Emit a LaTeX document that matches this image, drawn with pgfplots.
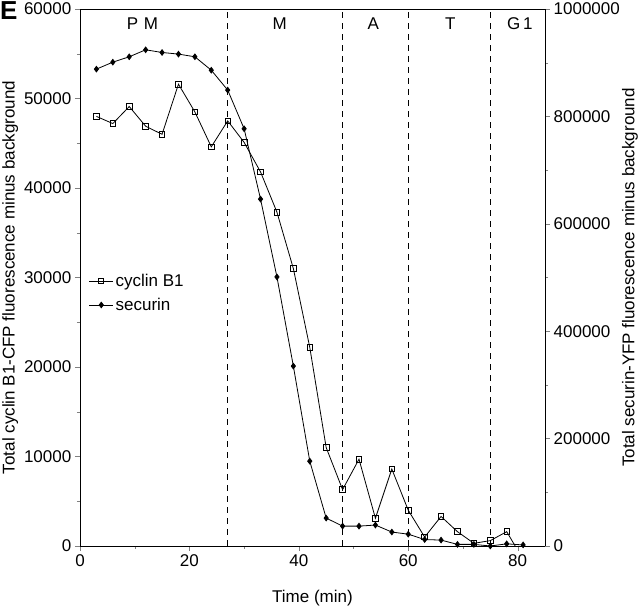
\documentclass[border=0pt]{standalone}
\usepackage{pgfplots}
\pgfplotsset{compat=1.18}
\usepackage{fontspec}
\setmainfont{Liberation Sans}
\begin{document}
\begin{tikzpicture}[font=\fontsize{17}{20}\selectfont]
\pgfplotsset{
  every axis/.append style={
    scale only axis, width=465pt, height=537pt,
    at={(0,0)}, anchor=south west,
    xmin=0, xmax=85,
    tick align=outside,
    major tick length=5pt, minor tick length=3pt,
    /pgf/number format/fixed,
    /pgf/number format/precision=0,
    /pgf/number format/assume math mode=true,
    /pgf/number format/1000 sep={},
    tick label style={font=\fontsize{17}{20}\selectfont},
    label style={font=\fontsize{17}{20}\selectfont},
    line width=0.7pt,
  },
}
\begin{axis}[
  name=ax,
  ymin=0, ymax=60000,
  xtick={0,20,40,60,80}, minor xtick={10,30,50,70},
  ytick={0,10000,20000,30000,40000,50000,60000},
  minor ytick={5000,15000,25000,35000,45000,55000},
  scaled y ticks=false,
  xtick pos=bottom, ytick pos=left,
  xlabel={Time (min)},
  ylabel={Total cyclin B1-CFP fluorescence minus background},
  xlabel style={at={(axis description cs:0.5,-0.097)}, anchor=center},
  ylabel style={at={(axis description cs:-0.15,0.5)}, anchor=center},
]
\addplot[black, dash pattern=on 6pt off 5pt, line width=0.9pt, forget plot] coordinates {(27,0) (27,60000)};
\addplot[black, dash pattern=on 6pt off 5pt, line width=0.9pt, forget plot] coordinates {(48,0) (48,60000)};
\addplot[black, dash pattern=on 6pt off 5pt, line width=0.9pt, forget plot] coordinates {(60,0) (60,60000)};
\addplot[black, dash pattern=on 6pt off 5pt, line width=0.9pt, forget plot] coordinates {(75,0) (75,60000)};
\addplot[black, line width=0.8pt, mark=square, mark size=2.8pt, mark options={fill=white, solid, line width=0.8pt}] coordinates {
(3,48000) (6,47200) (9,49100) (12,46900) (15,46000) (18,51600) (21,48500) (24,44600) (27,47500) (30,45100) (33,41800) (36,37300) (39,31000) (42,22200) (45,11000) (48,6300) (51,9700) (54,3100) (57,8600) (60,4000) (63,1000) (66,3300) (69,1600) (72,300) (75,600) (78,1600) (81,-1500)
};
\node[anchor=center] at (axis cs:11.4,58400) {P\,\,M};
\node[anchor=center] at (axis cs:36.5,58400) {M};
\node[anchor=center] at (axis cs:53.6,58400) {A};
\node[anchor=center] at (axis cs:67.7,58400) {T};
\node[anchor=center] at (axis cs:80.4,58400) {G\,1};
\end{axis}
\begin{axis}[
  ymin=0, ymax=1000000,
  axis y line*=right, hide x axis,
  ytick={0,200000,400000,600000,800000,1000000},
  minor ytick={100000,300000,500000,700000,900000},
  scaled y ticks=false,
  ylabel={Total securin-YFP fluorescence minus background},
  ylabel style={at={(axis description cs:1.183,0.5)}, anchor=center},
  legend style={at={(axis description cs:0.012,0.471)}, anchor=west, draw=none, fill=none,
    font=\fontsize{17}{20}\selectfont, row sep=6pt, cells={anchor=west}},
  legend image code/.code={\draw[mark repeat=2, mark phase=2] plot coordinates {(0cm,0cm) (0.42cm,0cm) (0.84cm,0cm)};},
]
\addlegendimage{black, line width=0.8pt, mark=square, mark size=2.6pt, mark options={fill=white, solid}}
\addlegendentry{cyclin B1}
\addplot[black, line width=0.8pt, mark=diamond*, mark size=2.8pt, mark options={fill=black}] coordinates {
(3,888000) (6,901000) (9,911000) (12,924000) (15,919000) (18,916000) (21,911000) (24,886000) (27,849000) (30,777000) (33,646000) (36,501000) (39,335000) (42,158000) (45,52000) (48,37000) (51,37000) (54,39000) (57,26000) (60,22000) (63,12000) (66,11000) (69,3000) (72,3000) (75,0) (78,4000) (81,2000)
};
\addlegendentry{securin}
\end{axis}
\node[anchor=north west, font=\bfseries\fontsize{26}{26}\selectfont, inner sep=0pt] at (-80pt,545pt) {E};
\pgfresetboundingbox
\path[use as bounding box] (-80pt,-66pt) rectangle (560pt,546pt);
\end{tikzpicture}
\end{document}
